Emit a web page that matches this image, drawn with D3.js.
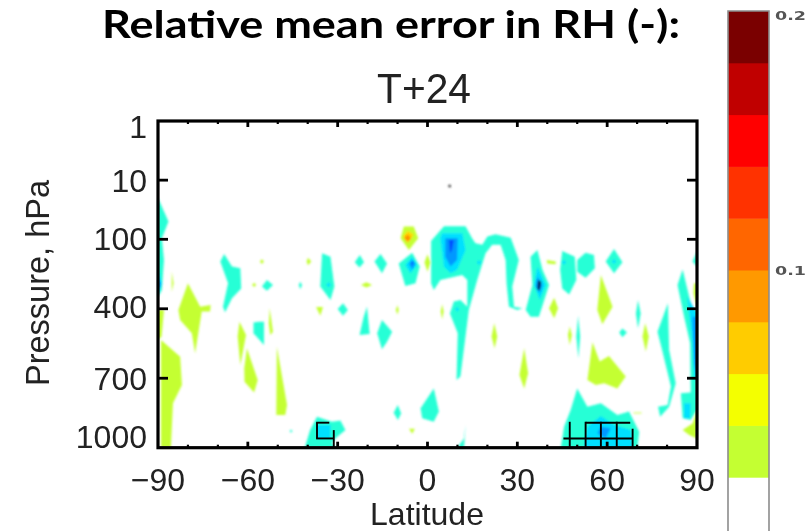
<!DOCTYPE html>
<html><head><meta charset="utf-8">
<script src="https://cdn.jsdelivr.net/npm/d3@7/dist/d3.min.js"></script>
<style>html,body{margin:0;padding:0;background:#fff}svg{display:block}</style>
</head><body><svg id="c" width="812" height="531"></svg>
<script>
const titleText = "Relative mean error in RH (-):";
const panelTitle = "T+24";
const xLabel = "Latitude";
const yLabel = "Pressure, hPa";
const latTicks = [-90,-60,-30,0,30,60,90];
const latMinor = [-80,-70,-50,-40,-20,-10,10,20,40,50,70,80];
const pressureTicks = [1,10,100,400,700,1000];
const barValues = [0,0.02,0.04,0.06,0.08,0.1,0.12,0.14,0.16,0.18,0.2];
const barColors = ["#ffffff","#c4ff33","#f4ff00","#ffcc00","#ff9900","#ff6600","#ff3300","#ff0000","#c00000","#7a0000"];
const barTicks = [0.1,0.2];

// contour regions, as [latitude, pressure] vertices
const greenRegions = [
 [[-89,535],[-82.6,607],[-82,729],[-85,808],[-85.7,1000],[-89,1000]],
 [[-90,405],[-88,405],[-88.8,520],[-90,535]],
 [[-80,290],[-75.9,391],[-72.4,384],[-72.6,412],[-75.4,412],[-77.6,592],[-78.7,506],[-82.6,448],[-83.2,405]],
 [[-85.4,240],[-84.8,290],[-85.4,326]],
 [[-62.8,456],[-60.6,513],[-62.5,643],[-63.4,520]],
 [[-60.3,571],[-56.7,708],[-57.9,762],[-61.1,715],[-61.2,657]],
 [[-50.3,564],[-46.9,816],[-47.5,859],[-50.5,859]],
 [[-52.7,398],[-51.6,499],[-52.5,513],[-53,463]],
 [[-55.3,186],[-54.6,196],[-55.3,207],[-56,196]],
 [[-39.9,180],[-38.8,196],[-39.9,212],[-40.4,196]],
 [[-20.4,285],[-18.5,297],[-20.4,308],[-22.2,297]],
 [[-37.2,392],[-34.9,392],[-35.8,430]],
 [[-10,385],[-9.6,405],[-10,425],[-10.6,405]],
 [[0,165],[1,200],[0,240],[-1,200]],
 [[-6.2,918],[-4.2,918],[-5.1,940]],
 [[-57.9,288],[-57.2,297],[-57.9,306],[-58.6,297]],
 [[4.9,380],[5.4,412],[4.9,445],[4.4,412]],
 [[22.3,463],[23.3,520],[22.4,571],[21.4,520]],
 [[32.3,571],[33.6,679],[32.3,744],[30.7,686]],
 [[39.8,189],[42.8,196],[42.8,208],[40,204]],
 [[42.3,352],[43.6,398],[42.3,441],[40.6,398]],
 [[57.9,254],[61.8,391],[58.4,467],[56.7,405]],
 [[47.5,477],[48.2,513],[47.5,556],[46.9,513]],
 [[55.1,545],[57.5,628],[60.6,604],[66.2,693],[63.4,744],[59,722],[56.2,729],[53.4,708]],
 [[72.7,463],[73.9,520],[72.9,585],[71.8,520]],
 [[89,290],[90,290],[90,391],[88.8,333]],
 [[90,837],[89.9,960],[87.4,945],[85.2,924],[88.5,895]],
 [[68.8,848],[71.5,848],[71.5,852],[68.8,852]],
 [[-6.6,61],[-4.6,61],[-3.1,96],[-6.2,146],[-9,96],[-7.9,61]]
];
const cyanRegions = [
 [[-90,20],[-86.5,50],[-88.7,96],[-88,189],[-88.7,319],[-90,348]],
 [[-67.9,163],[-65.3,218],[-62.5,225],[-62.2,312],[-65.3,355],[-67.6,415],[-68.3,391],[-66.6,290],[-69.2,196]],
 [[-53.6,276],[-51.6,297],[-53.6,322],[-55.3,304]],
 [[-42.5,283],[-41.9,297],[-42.5,316],[-43,297]],
 [[-35.2,160],[-32.4,175],[-31.1,304],[-32.4,362],[-35.8,304]],
 [[-22.6,168],[-21.2,199],[-22.7,222],[-24.3,199]],
 [[-15.7,163],[-13.5,204],[-15.2,247],[-17.7,196]],
 [[-28.2,376],[-26.6,405],[-28.2,430],[-30,401]],
 [[-20.2,391],[-19.3,509],[-22.7,513],[-21.3,434]],
 [[-56.4,456],[-54.6,456],[-54.6,556],[-58.1,506],[-58.1,459]],
 [[-15.2,448],[-11.8,499],[-13.5,542],[-15.2,575],[-16.8,506]],
 [[-9.9,816],[-8.8,852],[-9.9,880],[-11.3,849]],
 [[-5.1,158],[-2.6,218],[-4,290],[-7.4,302],[-9.6,204]],
 [[-45.6,922],[-45,928],[-45.6,934],[-46.1,928]],
 [[-36.9,866],[-31.9,888],[-29.1,883],[-27.4,924],[-30.8,960],[-31.9,981],[-30.5,1000],[-41,1000],[-39.2,924]],
 [[5.5,60],[12.7,60],[14.9,96],[16,117],[18.3,124],[20,90],[22.7,82],[27.8,94],[30.5,189],[28.3,304],[28.9,391],[31.7,398],[30,405],[27.2,391],[26.4,290],[26.1,189],[24.4,124],[21.6,124],[19.4,160],[16.6,276],[13.8,405],[11,693],[9.7,708],[10.1,506],[7.5,420],[8.8,369],[11,362],[13.3,391],[13.3,276],[11.6,254],[4.3,276],[2.1,319],[1.2,290],[1.2,107]],
 [[36.7,146],[38.4,232],[40.6,297],[37.2,434],[34.4,434],[32.8,405],[35,297],[34.4,175]],
 [[45,150],[49.2,175],[49.7,276],[47.3,338],[45,312],[44.3,232]],
 [[52.8,158],[55.6,168],[55.9,225],[52.8,266],[50,240],[50,189]],
 [[62.3,142],[65.1,199],[62.3,247],[59.5,196]],
 [[65.1,485],[66.6,503],[65.1,523],[64,503]],
 [[50.3,431],[51,520],[50.4,614],[49.7,520]],
 [[70.3,362],[71.2,420],[70.3,485],[69.6,420]],
 [[80.3,376],[80.7,578],[82.9,722],[80.7,823],[77.7,866],[77,823],[80.2,816],[81.3,736],[78.2,571],[76.8,499]],
 [[85.2,230],[87.4,348],[88.5,405],[90,405],[90,837],[87.9,880],[85.2,873],[84.6,765],[87.9,762],[87.7,549],[85.7,434],[83.5,297]],
 [[90,153],[88.5,196],[90,218]],
 [[2.1,744],[3.8,844],[2.1,888],[-1.8,873],[-2.3,830]],
 [[12.7,902],[12.2,960],[9.9,1000],[12.2,1000]],
 [[50,744],[53.4,823],[57.9,808],[63.4,859],[67.3,844],[70.7,931],[70.1,1000],[44.5,1000],[45.6,909],[47.8,837]]
];
const skyRegions = [
 [[-90,232],[-88.7,290],[-90,340]],
 [[-5.1,175],[-3.5,211],[-5.7,247],[-7.4,211]],
 [[4.9,79],[11.6,79],[12.7,146],[9.9,232],[7.7,247],[5.5,218],[4.3,96]],
 [[36.7,218],[39.5,297],[37.5,362],[35.6,297]],
 [[86.8,348],[90,420],[90,722],[89,693],[88.5,549]],
 [[85.7,808],[87.9,808],[87.7,873],[85.7,873]],
 [[-36.9,902],[-32.4,902],[-32.4,960],[-36.9,960]],
 [[53.4,909],[57.9,863],[62.3,902],[67.9,924],[68.4,1000],[52.3,1000]],
 [[17.2,190],[18,200],[17.2,210],[16.4,200]],
 [[9.9,392],[10.6,402],[9.9,412],[9.2,402]],
 [[45.6,189],[46.4,199],[45.6,209],[44.8,199]],
 [[-33,287],[-32.2,297],[-33,307],[-33.8,297]],
 [[62.3,186],[63.1,196],[62.3,206],[61.5,196]]
];
const blueRegions = [
 [[5.9,96],[10.1,96],[9.9,189],[7.7,218],[5.9,175]],
 [[-5.1,189],[-4,204],[-5.1,230],[-6.2,207]],
 [[36.7,261],[38.4,297],[37.5,333],[36.1,304]],
 [[-90,261],[-89,297],[-90,326]],
 [[88.5,434],[90,434],[90,693],[89,636]],
 [[57.9,909],[61.2,916],[59.5,960],[56.7,938]]
];
const deepBlueRegions = [
 [[7.1,103],[8.8,103],[8.2,146],[7.5,160]],
 [[-5.4,196],[-4.7,196],[-5.1,212]]
];
const navyRegions = [
 [[36.9,276],[38,283],[37.5,319],[36.7,319]]
];
const yellowRegions = [
 [[-6.6,72],[-4.6,84],[-6.6,117],[-8.2,90]]
];
const orangeRegions = [
 [[-6.6,82],[-5.5,96],[-6.6,110],[-7.8,96]]
];
// stippling of significant points: grid lines [lat, pressure, lat, pressure]
const hatchLines = [
 [-37.2,892,-32.8,892],[-36.9,892,-36.9,960],[-37.2,960,-31.3,960],[-31.3,924,-31.3,1000],
 [47.5,888,47.5,1000],[52.8,888,52.8,1000],[57.9,888,57.9,1000],[63.2,888,63.2,1000],[68.5,918,68.5,1000],
 [52.8,892,67.7,892],[45.4,960,68.5,960]
];
const dotPoints = [[7.4,12.6]];

const svg = d3.select("#c");
const defs = svg.append("defs");
defs.append("filter").attr("id","soft").attr("x","-5%").attr("y","-5%").attr("width","110%").attr("height","110%")
  .append("feGaussianBlur").attr("stdDeviation",0.9);
defs.append("filter").attr("id","softT").attr("x","-5%").attr("y","-5%").attr("width","110%").attr("height","110%")
  .append("feGaussianBlur").attr("stdDeviation",0.45);

const x = d3.scaleLinear().domain([-90,90]).range([158,697]);
const yLog = d3.scaleLog().domain([1,100]).range([121,239.3]);
const yLin = d3.scaleLinear().domain([100,1000]).range([239.3,447.7]);
const y = p => p < 100 ? yLog(p) : yLin(p);
const line = d3.line().x(d => x(d[0])).y(d => y(d[1]));

const plot = svg.append("g").attr("filter","url(#soft)");
const layers = [
 [greenRegions,"#c4ff33"],[cyanRegions,"#27ffd6"],[skyRegions,"#00e0ff"],
 [blueRegions,"#0098ff"],[deepBlueRegions,"#0050ff"],[navyRegions,"#00104a"],
 [yellowRegions,"#ffd800"],[orangeRegions,"#ff9000"]
];
layers.forEach(([regions,color]) => {
  plot.append("g").selectAll("path").data(regions).join("path")
    .attr("d", d => line(d) + "Z").attr("fill", color);
});
plot.append("g").selectAll("circle").data(dotPoints).join("circle")
  .attr("cx", d => x(d[0])).attr("cy", d => y(d[1])).attr("r",1.4).attr("fill","#333");

// hatching, frame and ticks
const frame = svg.append("g").attr("filter","url(#softT)");
frame.append("g").selectAll("line").data(hatchLines).join("line")
  .attr("x1", d => x(d[0])).attr("y1", d => y(d[1]))
  .attr("x2", d => x(d[2])).attr("y2", d => y(d[3]))
  .attr("stroke","#000").attr("stroke-width",1.9);
const [L,R] = x.range(), T = y(1), B = y(1000);
const tick = (a,b,c,d,w) => frame.append("line").attr("x1",a).attr("y1",b).attr("x2",c).attr("y2",d)
  .attr("stroke","#000").attr("stroke-width",w);
pressureTicks.slice(1,-1).forEach(p => { tick(L,y(p),L+10,y(p),2.8); tick(R-10,y(p),R,y(p),2.8); });
latTicks.slice(1,-1).forEach(v => { tick(x(v),T,x(v),T+6,2.8); tick(x(v),B-6,x(v),B,2.8); });
latMinor.forEach(v => { tick(x(v),T,x(v),T+3,2.2); tick(x(v),B-3,x(v),B,2.2); });
frame.append("rect").attr("x",L).attr("y",T).attr("width",R-L).attr("height",B-T)
  .attr("fill","none").attr("stroke","#000").attr("stroke-width",3.2);

// texts
const sans = "'Liberation Sans',Arial,sans-serif";
const labelShift = [17,12,11,9,12,0];
const text = svg.append("g").attr("filter","url(#softT)").attr("fill","#222").attr("font-family",sans);
text.append("text").attr("x",391).attr("y",38).attr("text-anchor","middle")
  .attr("font-family","Lato,sans-serif").attr("font-weight",700).attr("font-size",38).attr("fill","#000")
  .attr("textLength",578).attr("lengthAdjust","spacingAndGlyphs").text(titleText);
text.append("text").attr("x",424).attr("y",103).attr("text-anchor","middle").attr("font-size",42)
  .attr("textLength",94).attr("lengthAdjust","spacingAndGlyphs").text(panelTitle);
text.selectAll(".xt").data(latTicks).join("text").attr("class","xt")
  .attr("x", d => x(d)).attr("y",491).attr("text-anchor","middle").attr("font-size",32)
  .text(d => d < 0 ? "\u2212" + Math.abs(d) : d);
text.selectAll(".yt").data(pressureTicks).join("text").attr("class","yt")
  .attr("x",147).attr("y",(d,i) => y(d) + labelShift[i]).attr("text-anchor","end").attr("font-size",32).text(d => d);
text.append("text").attr("x",427).attr("y",525).attr("text-anchor","middle").attr("font-size",32).text(xLabel);
text.append("text").attr("transform","translate(49,283) rotate(-90)").attr("text-anchor","middle")
  .attr("font-size",32.5).text(yLabel);

// colour bar
const barY = d3.scaleLinear().domain([0,0.2]).range([529,11]);
const bar = svg.append("g").attr("filter","url(#softT)");
bar.selectAll("rect").data(barColors).join("rect")
  .attr("x",728).attr("width",41)
  .attr("y",(d,i) => barY(barValues[i+1])).attr("height",(d,i) => barY(barValues[i]) - barY(barValues[i+1]) + 0.5)
  .attr("fill", d => d);
bar.append("path").attr("d",`M728,531V${barY(0.2)}H769V531`).attr("fill","none").attr("stroke","#8c8c8c").attr("stroke-width",1.6);
bar.selectAll("text").data(barTicks).join("text")
  .attr("x",775).attr("y", d => barY(d) + (d === 0.2 ? 9 : 5)).attr("font-family","'DejaVu Sans',sans-serif")
  .attr("font-size",13).attr("font-weight",700).attr("fill","#555")
  .attr("textLength",31).attr("lengthAdjust","spacingAndGlyphs").text(d => d);
</script></body></html>
